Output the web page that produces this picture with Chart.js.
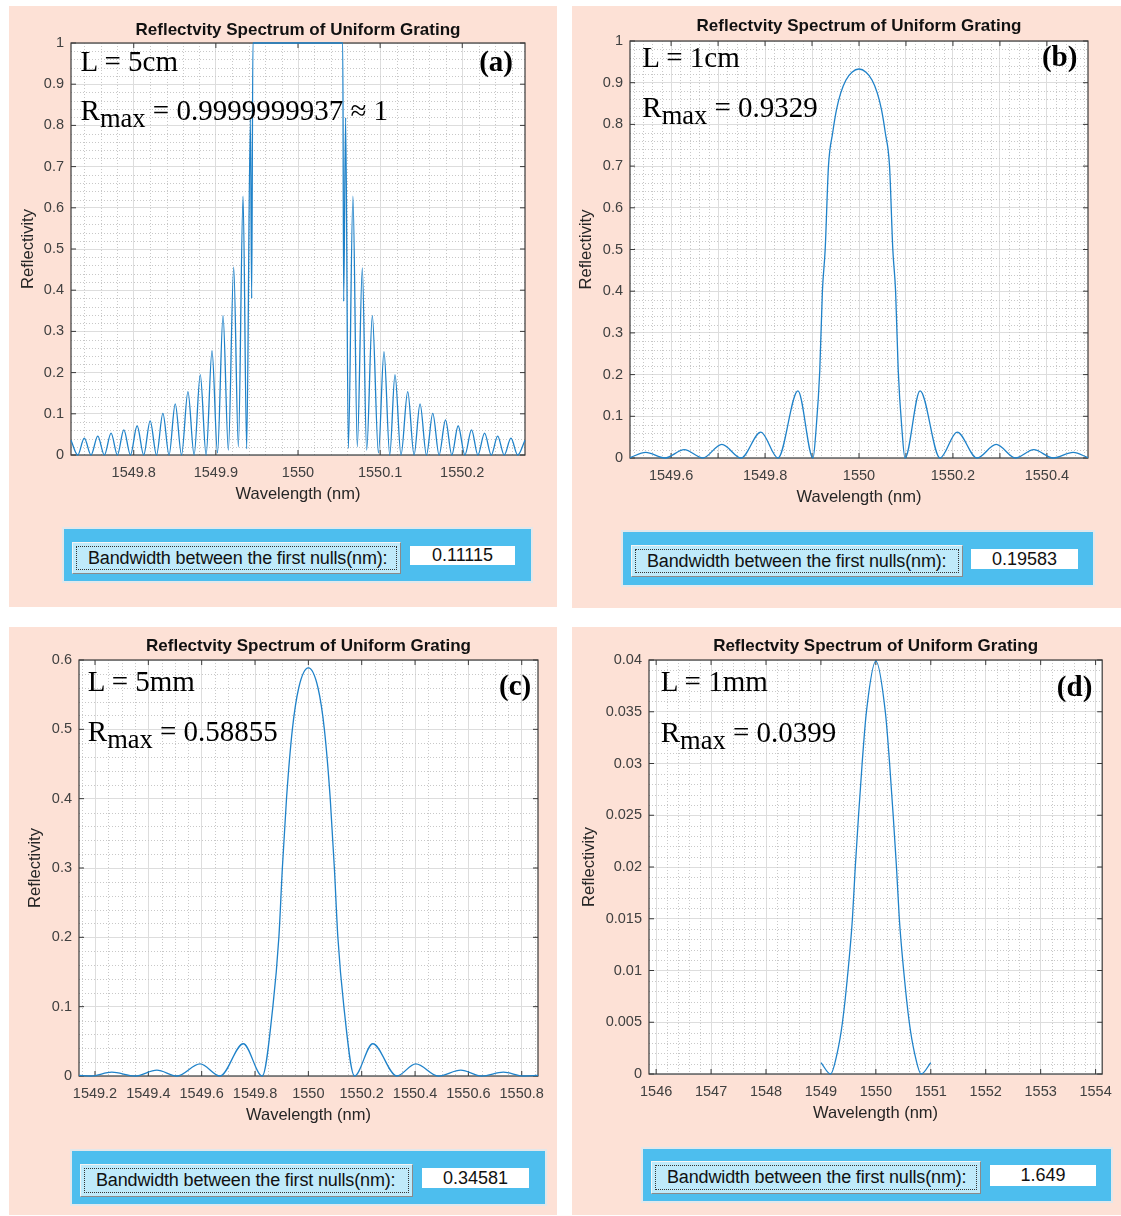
<!DOCTYPE html>
<html>
<head>
<meta charset="utf-8">
<title>Reflectivity spectra of uniform gratings</title>
<script src="https://cdn.jsdelivr.net/npm/chart.js@4.4.0/dist/chart.umd.min.js"></script>
<style>
  body { margin: 0; background: #fff; width: 1121px; height: 1216px; position: relative; overflow: hidden;
         font-family: "Liberation Sans", Arial, sans-serif; }
  .panel { position: absolute; background: #fde1d6; }
  canvas { position: absolute; }
  .note { position: absolute; font-family: "Liberation Serif", "Times New Roman", serif; font-size: 29px;
          line-height: 29px; white-space: nowrap; color: #000; }
  .note sub { font-size: 26.5px; vertical-align: baseline; position: relative; top: 7px; }
  .tag { font-weight: bold; text-align: right; width: 60px; }
  .bar { position: absolute; background: #4dbeee; border: 2px solid #e3e7ea; box-sizing: border-box; }
  .btn { position: absolute; background: #bfeafa; box-sizing: border-box; border: 1px solid;
         border-color: #f4f4f4 #8a8a8a #8a8a8a #f4f4f4; font-size: 18px; letter-spacing: -0.15px;
         color: #111; padding-left: 15px; display: flex; align-items: center; white-space: nowrap; }
  .btn .focus { position: absolute; left: 3px; top: 3px; right: 3px; bottom: 3px; border: 1px dotted #333; }
  .fld { position: absolute; background: #fff; font-size: 18px; color: #111; text-align: center;
         display: flex; align-items: center; justify-content: center; }
</style>
</head>
<body>

<div class="panel" style="left:9px;top:6px;width:548px;height:601px"></div>
<div class="panel" style="left:572px;top:6px;width:549px;height:602px"></div>
<div class="panel" style="left:9px;top:627px;width:548px;height:588px"></div>
<div class="panel" style="left:572px;top:627px;width:549px;height:588px"></div>

<canvas id="chartA" width="548" height="509" style="left:9px;top:6px"></canvas>
<canvas id="chartB" width="549" height="512" style="left:572px;top:6px"></canvas>
<canvas id="chartC" width="548" height="509" style="left:9px;top:627px"></canvas>
<canvas id="chartD" width="549" height="507" style="left:572px;top:627px"></canvas>

<!-- annotations -->
<div class="note" style="left:80.6px;top:46.7px">L = 5cm</div>
<div class="note" style="left:80.6px;top:95.7px">R<sub>max</sub> = 0.9999999937 ≈ 1</div>
<div class="note tag" style="left:453px;top:46.7px">(a)</div>

<div class="note" style="left:642.3px;top:43.4px">L = 1cm</div>
<div class="note" style="left:642.3px;top:93px">R<sub>max</sub> = 0.9329</div>
<div class="note tag" style="left:1017.4px;top:42.3px">(b)</div>

<div class="note" style="left:87.8px;top:666.7px">L = 5mm</div>
<div class="note" style="left:87.8px;top:717.4px">R<sub>max</sub> = 0.58855</div>
<div class="note tag" style="left:471.2px;top:670.6px">(c)</div>

<div class="note" style="left:660.7px;top:666.7px">L = 1mm</div>
<div class="note" style="left:660.7px;top:718.4px">R<sub>max</sub> = 0.0399</div>
<div class="note tag" style="left:1032.3px;top:672.3px">(d)</div>

<!-- bandwidth bars -->
<div class="bar" style="left:62px;top:527px;width:471px;height:56px"></div>
<div class="btn" style="left:72px;top:542px;width:329px;height:32px"><div class="focus"></div>Bandwidth between the first nulls(nm):</div>
<div class="fld" style="left:410px;top:546px;width:105px;height:19px">0.11115</div>

<div class="bar" style="left:621px;top:530px;width:474px;height:57px"></div>
<div class="btn" style="left:631px;top:545px;width:332px;height:32px"><div class="focus"></div>Bandwidth between the first nulls(nm):</div>
<div class="fld" style="left:971px;top:549px;width:107px;height:20px">0.19583</div>

<div class="bar" style="left:70px;top:1149px;width:477px;height:57px"></div>
<div class="btn" style="left:80px;top:1164px;width:333px;height:33px"><div class="focus"></div>Bandwidth between the first nulls(nm):</div>
<div class="fld" style="left:422px;top:1168px;width:107px;height:20px">0.34581</div>

<div class="bar" style="left:641px;top:1147px;width:472px;height:56px"></div>
<div class="btn" style="left:651px;top:1161px;width:330px;height:33px"><div class="focus"></div>Bandwidth between the first nulls(nm):</div>
<div class="fld" style="left:990px;top:1165px;width:106px;height:21px">1.649</div>

<script>
// values (wavelength in nm, reflectivity)

// (a) L = 5cm
const wlA = [
  1549.7236, 1549.7318, 1549.7398, 1549.7480, 1549.7562, 1549.7642, 1549.7724, 1549.7801, 1549.7879, 1549.7960,
  1549.8041, 1549.8121, 1549.8200, 1549.8277, 1549.8355, 1549.8430, 1549.8505, 1549.8582, 1549.8660, 1549.8735,
  1549.8810, 1549.8881, 1549.8953, 1549.9020, 1549.9087, 1549.9152, 1549.9217, 1549.9274, 1549.9331, 1549.9375,
  1549.9420, 1549.9436, 1549.9451, 1550.0000, 1550.0545, 1550.0556, 1550.0580, 1550.0613, 1550.0669, 1550.0722,
  1550.0783, 1550.0836, 1550.0905, 1550.0979, 1550.1047, 1550.1117, 1550.1181, 1550.1254, 1550.1336, 1550.1413,
  1550.1486, 1550.1564, 1550.1641, 1550.1718, 1550.1796, 1550.1873, 1550.1950, 1550.2032, 1550.2113, 1550.2190,
  1550.2272, 1550.2353, 1550.2431, 1550.2511, 1550.2593, 1550.2675, 1550.2764];
const rA = [
  0.036, 0, 0.041, 0, 0.046, 0, 0.053, 0, 0.061, 0,
  0.071, 0, 0.083, 0, 0.101, 0, 0.124, 0, 0.154, 0,
  0.195, 0, 0.253, 0.005, 0.338, 0.012, 0.456, 0.02, 0.628, 0.015,
  0.815, 0.38, 1, 1, 1, 0.373, 0.819, 0.016, 0.628, 0.02,
  0.454, 0.012, 0.338, 0.005, 0.251, 0, 0.195, 0, 0.154, 0,
  0.124, 0, 0.101, 0, 0.085, 0, 0.071, 0, 0.061, 0,
  0.053, 0, 0.046, 0, 0.041, 0, 0.036];

// (b) L = 1cm
const wlB = [
  1549.5125, 1549.546, 1549.5865, 1549.628, 1549.6675, 1549.708, 1549.749, 1549.791, 1549.8275, 1549.870,
  1549.9021, 1549.9087, 1549.9165, 1549.9221, 1549.9280, 1549.9350, 1549.9440, 1549.9520, 1549.9610,
  1549.9720, 1549.9850, 1550.0000, 1550.0150, 1550.0280, 1550.0390, 1550.0480, 1550.0560, 1550.0650,
  1550.0720, 1550.0779, 1550.0835, 1550.0913, 1550.0979,
  1550.130, 1550.1725, 1550.209, 1550.251, 1550.292, 1550.3335, 1550.372, 1550.4135, 1550.456, 1550.4875];
const rB = [
  0.001, 0.0134, 0, 0.020, 0, 0.0327, 0, 0.062, 0, 0.161,
  0, 0.07, 0.21, 0.4, 0.5, 0.7, 0.78, 0.835, 0.875,
  0.906, 0.925, 0.9329, 0.925, 0.906, 0.875, 0.835, 0.78, 0.7,
  0.5, 0.4, 0.21, 0.07, 0,
  0.161, 0, 0.062, 0, 0.0327, 0, 0.020, 0, 0.0134, 0.001];

// (c) L = 5mm
const wlC = [
  1549.140, 1549.185, 1549.263, 1549.350, 1549.432, 1549.507, 1549.594, 1549.669, 1549.756, 1549.8271,
  1549.8669, 1549.8894, 1549.9025, 1549.918, 1549.940, 1549.964, 1550.000,
  1550.036, 1550.060, 1550.082, 1550.0975, 1550.1106, 1550.1331, 1550.1729,
  1550.2415, 1550.3315, 1550.4027, 1550.4874, 1550.5714, 1550.6502, 1550.7312, 1550.8062, 1550.861];
const rC = [
  0.001, 0, 0.0055, 0, 0.0084, 0, 0.0176, 0, 0.0465, 0,
  0.1, 0.2, 0.3, 0.4, 0.5, 0.56, 0.58855,
  0.56, 0.5, 0.4, 0.3, 0.2, 0.1, 0,
  0.0465, 0, 0.0176, 0, 0.0084, 0, 0.0055, 0, 0.001];

// (d) L = 1mm
const wlD = [
  1549.000, 1549.1755, 1549.295, 1549.392, 1549.494, 1549.573, 1549.625, 1549.685, 1549.750, 1549.828, 1550.000,
  1550.172, 1550.250, 1550.315, 1550.375, 1550.427, 1550.506, 1550.608, 1550.705, 1550.8245, 1551.000];
const rD = [
  0.0011, 0, 0.002, 0.005, 0.01, 0.015, 0.02, 0.025, 0.03, 0.035, 0.0399,
  0.035, 0.03, 0.025, 0.02, 0.015, 0.01, 0.005, 0.002, 0, 0.0011];

// tick values and labels
const xTicksA = [1549.8, 1549.9, 1550, 1550.1, 1550.2];
const xLabelsA = ['1549.8', '1549.9', '1550', '1550.1', '1550.2'];
const xTicksB = [1549.6, 1549.7, 1549.8, 1549.9, 1550, 1550.1, 1550.2, 1550.3, 1550.4];
const xLabelsB = ['1549.6', '', '1549.8', '', '1550', '', '1550.2', '', '1550.4'];
const xTicksC = [1549.2, 1549.4, 1549.6, 1549.8, 1550, 1550.2, 1550.4, 1550.6, 1550.8];
const xLabelsC = ['1549.2', '1549.4', '1549.6', '1549.8', '1550', '1550.2', '1550.4', '1550.6', '1550.8'];
const xTicksD = [1546, 1547, 1548, 1549, 1550, 1551, 1552, 1553, 1554];
const xLabelsD = ['1546', '1547', '1548', '1549', '1550', '1551', '1552', '1553', '1554'];
const yTicks1 = [0, 0.1, 0.2, 0.3, 0.4, 0.5, 0.6, 0.7, 0.8, 0.9, 1];
const yLabels1 = ['0', '0.1', '0.2', '0.3', '0.4', '0.5', '0.6', '0.7', '0.8', '0.9', '1'];
const yTicksC = [0, 0.1, 0.2, 0.3, 0.4, 0.5, 0.6];
const yLabelsC = ['0', '0.1', '0.2', '0.3', '0.4', '0.5', '0.6'];
const yTicksD = [0, 0.005, 0.01, 0.015, 0.02, 0.025, 0.03, 0.035, 0.04];
const yLabelsD = ['0', '0.005', '0.01', '0.015', '0.02', '0.025', '0.03', '0.035', '0.04'];

const FONT = '"Liberation Sans", Arial, sans-serif';
Chart.defaults.font.family = FONT;

// white axes, dotted minor grid, box and inward tick marks (matlab look)
const axesLook = {
  id: 'axesLook',
  beforeDraw(chart) {
    const a = chart.chartArea, ctx = chart.ctx;
    ctx.save();
    ctx.fillStyle = '#fff';
    ctx.fillRect(a.left, a.top, a.right - a.left, a.bottom - a.top);
    ctx.restore();
  },
  beforeDatasetsDraw(chart, args, opts) {
    const a = chart.chartArea, ctx = chart.ctx;
    const xs = chart.scales.x, ys = chart.scales.y;
    ctx.save();
    ctx.strokeStyle = '#c8c8c8';
    ctx.lineWidth = 1;
    ctx.setLineDash([1, 2]);
    let k = Math.ceil(xs.min / opts.minorX - 1e-6);
    for (; k * opts.minorX <= xs.max + 1e-9; k++) {
      const v = k * opts.minorX;
      if (opts.xTicks.some(t => Math.abs(t - v) < opts.minorX / 10)) continue;
      const px = Math.round(xs.getPixelForValue(v)) + 0.5;
      ctx.beginPath(); ctx.moveTo(px, a.top); ctx.lineTo(px, a.bottom); ctx.stroke();
    }
    k = Math.ceil(ys.min / opts.minorY - 1e-6);
    for (; k * opts.minorY <= ys.max + 1e-9; k++) {
      const v = k * opts.minorY;
      if (opts.yTicks.some(t => Math.abs(t - v) < opts.minorY / 10)) continue;
      const py = Math.round(ys.getPixelForValue(v)) + 0.5;
      ctx.beginPath(); ctx.moveTo(a.left, py); ctx.lineTo(a.right, py); ctx.stroke();
    }
    ctx.setLineDash([]);
    ctx.strokeStyle = '#3a3a3a';
    ctx.lineWidth = 1.2;
    ctx.strokeRect(a.left, a.top, a.right - a.left, a.bottom - a.top);
    ctx.lineWidth = 1;
    opts.xTicks.forEach(t => {
      const px = xs.getPixelForValue(t);
      ctx.beginPath();
      ctx.moveTo(px, a.bottom); ctx.lineTo(px, a.bottom - 5);
      ctx.moveTo(px, a.top); ctx.lineTo(px, a.top + 5);
      ctx.stroke();
    });
    opts.yTicks.forEach(t => {
      const py = ys.getPixelForValue(t);
      ctx.beginPath();
      ctx.moveTo(a.left, py); ctx.lineTo(a.left + 5, py);
      ctx.moveTo(a.right, py); ctx.lineTo(a.right - 5, py);
      ctx.stroke();
    });
    ctx.restore();
  }
};

function spectrum(id, wl, r, c) {
  return new Chart(document.getElementById(id), {
    type: 'line',
    data: {
      datasets: [{
        data: wl.map((x, i) => ({ x: x, y: r[i] })),
        borderColor: '#1f82c9',
        borderWidth: 1.3,
        pointRadius: 0,
        fill: false,
        cubicInterpolationMode: 'monotone',
        clip: 3
      }]
    },
    options: {
      responsive: false,
      animation: false,
      events: [],
      layout: { padding: { left: 0, top: 0, bottom: 0, right: c.padR } },
      plugins: {
        legend: { display: false },
        tooltip: { enabled: false },
        title: {
          display: true,
          fullSize: false,
          text: 'Reflectvity Spectrum of Uniform Grating',
          color: '#111',
          font: { size: 17, weight: 'bold', lineHeight: 1 },
          padding: { top: c.titleTop, bottom: c.titleBottom }
        },
        axesLook: { minorX: c.minorX, minorY: c.minorY, xTicks: c.xTicks, yTicks: c.yTicks }
      },
      scales: {
        x: {
          type: 'linear',
          min: c.xMin, max: c.xMax,
          afterBuildTicks: s => { s.ticks = c.xTicks.map(v => ({ value: v })); },
          afterFit: s => { s.height = 60; },
          ticks: { callback: (v, i) => c.xLabels[i], color: '#404040', font: { size: 14.5 },
                   padding: 9, autoSkip: false, maxRotation: 0 },
          grid: { color: '#dddddd', drawTicks: false },
          border: { display: false },
          title: { display: true, text: 'Wavelength (nm)', color: '#262626',
                   font: { size: 16.5, lineHeight: 1 }, padding: { top: 0, bottom: 12 } }
        },
        y: {
          min: c.yMin, max: c.yMax,
          afterBuildTicks: s => { s.ticks = c.yTicks.map(v => ({ value: v })); },
          afterFit: s => { s.width = c.yw; },
          ticks: { callback: (v, i) => c.yLabels[i], color: '#404040', font: { size: 14.5 }, padding: 7 },
          grid: { color: '#dddddd', drawTicks: false },
          border: { display: false },
          title: { display: true, text: 'Reflectivity', color: '#262626',
                   font: { size: 16.5, lineHeight: 1 }, padding: { top: c.yTitlePad, bottom: 0 } }
        }
      }
    },
    plugins: [axesLook]
  });
}

spectrum('chartA', wlA, rA, {
  xMin: 1549.7236, xMax: 1550.2764, yMin: 0, yMax: 1,
  xTicks: xTicksA, xLabels: xLabelsA, yTicks: yTicks1, yLabels: yLabels1,
  minorX: 0.02, minorY: 0.02, yw: 62, padR: 32, titleTop: 16, titleBottom: 4, yTitlePad: 11.5
});
spectrum('chartB', wlB, rB, {
  xMin: 1549.5125, xMax: 1550.4875, yMin: 0, yMax: 1,
  xTicks: xTicksB, xLabels: xLabelsB, yTicks: yTicks1, yLabels: yLabels1,
  minorX: 0.02, minorY: 0.02, yw: 58, padR: 33, titleTop: 12, titleBottom: 6, yTitlePad: 5.75
});
spectrum('chartC', wlC, rC, {
  xMin: 1549.14, xMax: 1550.861, yMin: 0, yMax: 0.6,
  xTicks: xTicksC, xLabels: xLabelsC, yTicks: yTicksC, yLabels: yLabelsC,
  minorX: 0.05, minorY: 0.02, yw: 70, padR: 19, titleTop: 11, titleBottom: 5, yTitlePad: 18.5
});
spectrum('chartD', wlD, rD, {
  xMin: 1545.87, xMax: 1554.12, yMin: 0, yMax: 0.04,
  xTicks: xTicksD, xLabels: xLabelsD, yTicks: yTicksD, yLabels: yLabelsD,
  minorX: 0.2, minorY: 0.001, yw: 77, padR: 16, titleTop: 11, titleBottom: 5, yTitlePad: 9.5
});
</script>
</body>
</html>
